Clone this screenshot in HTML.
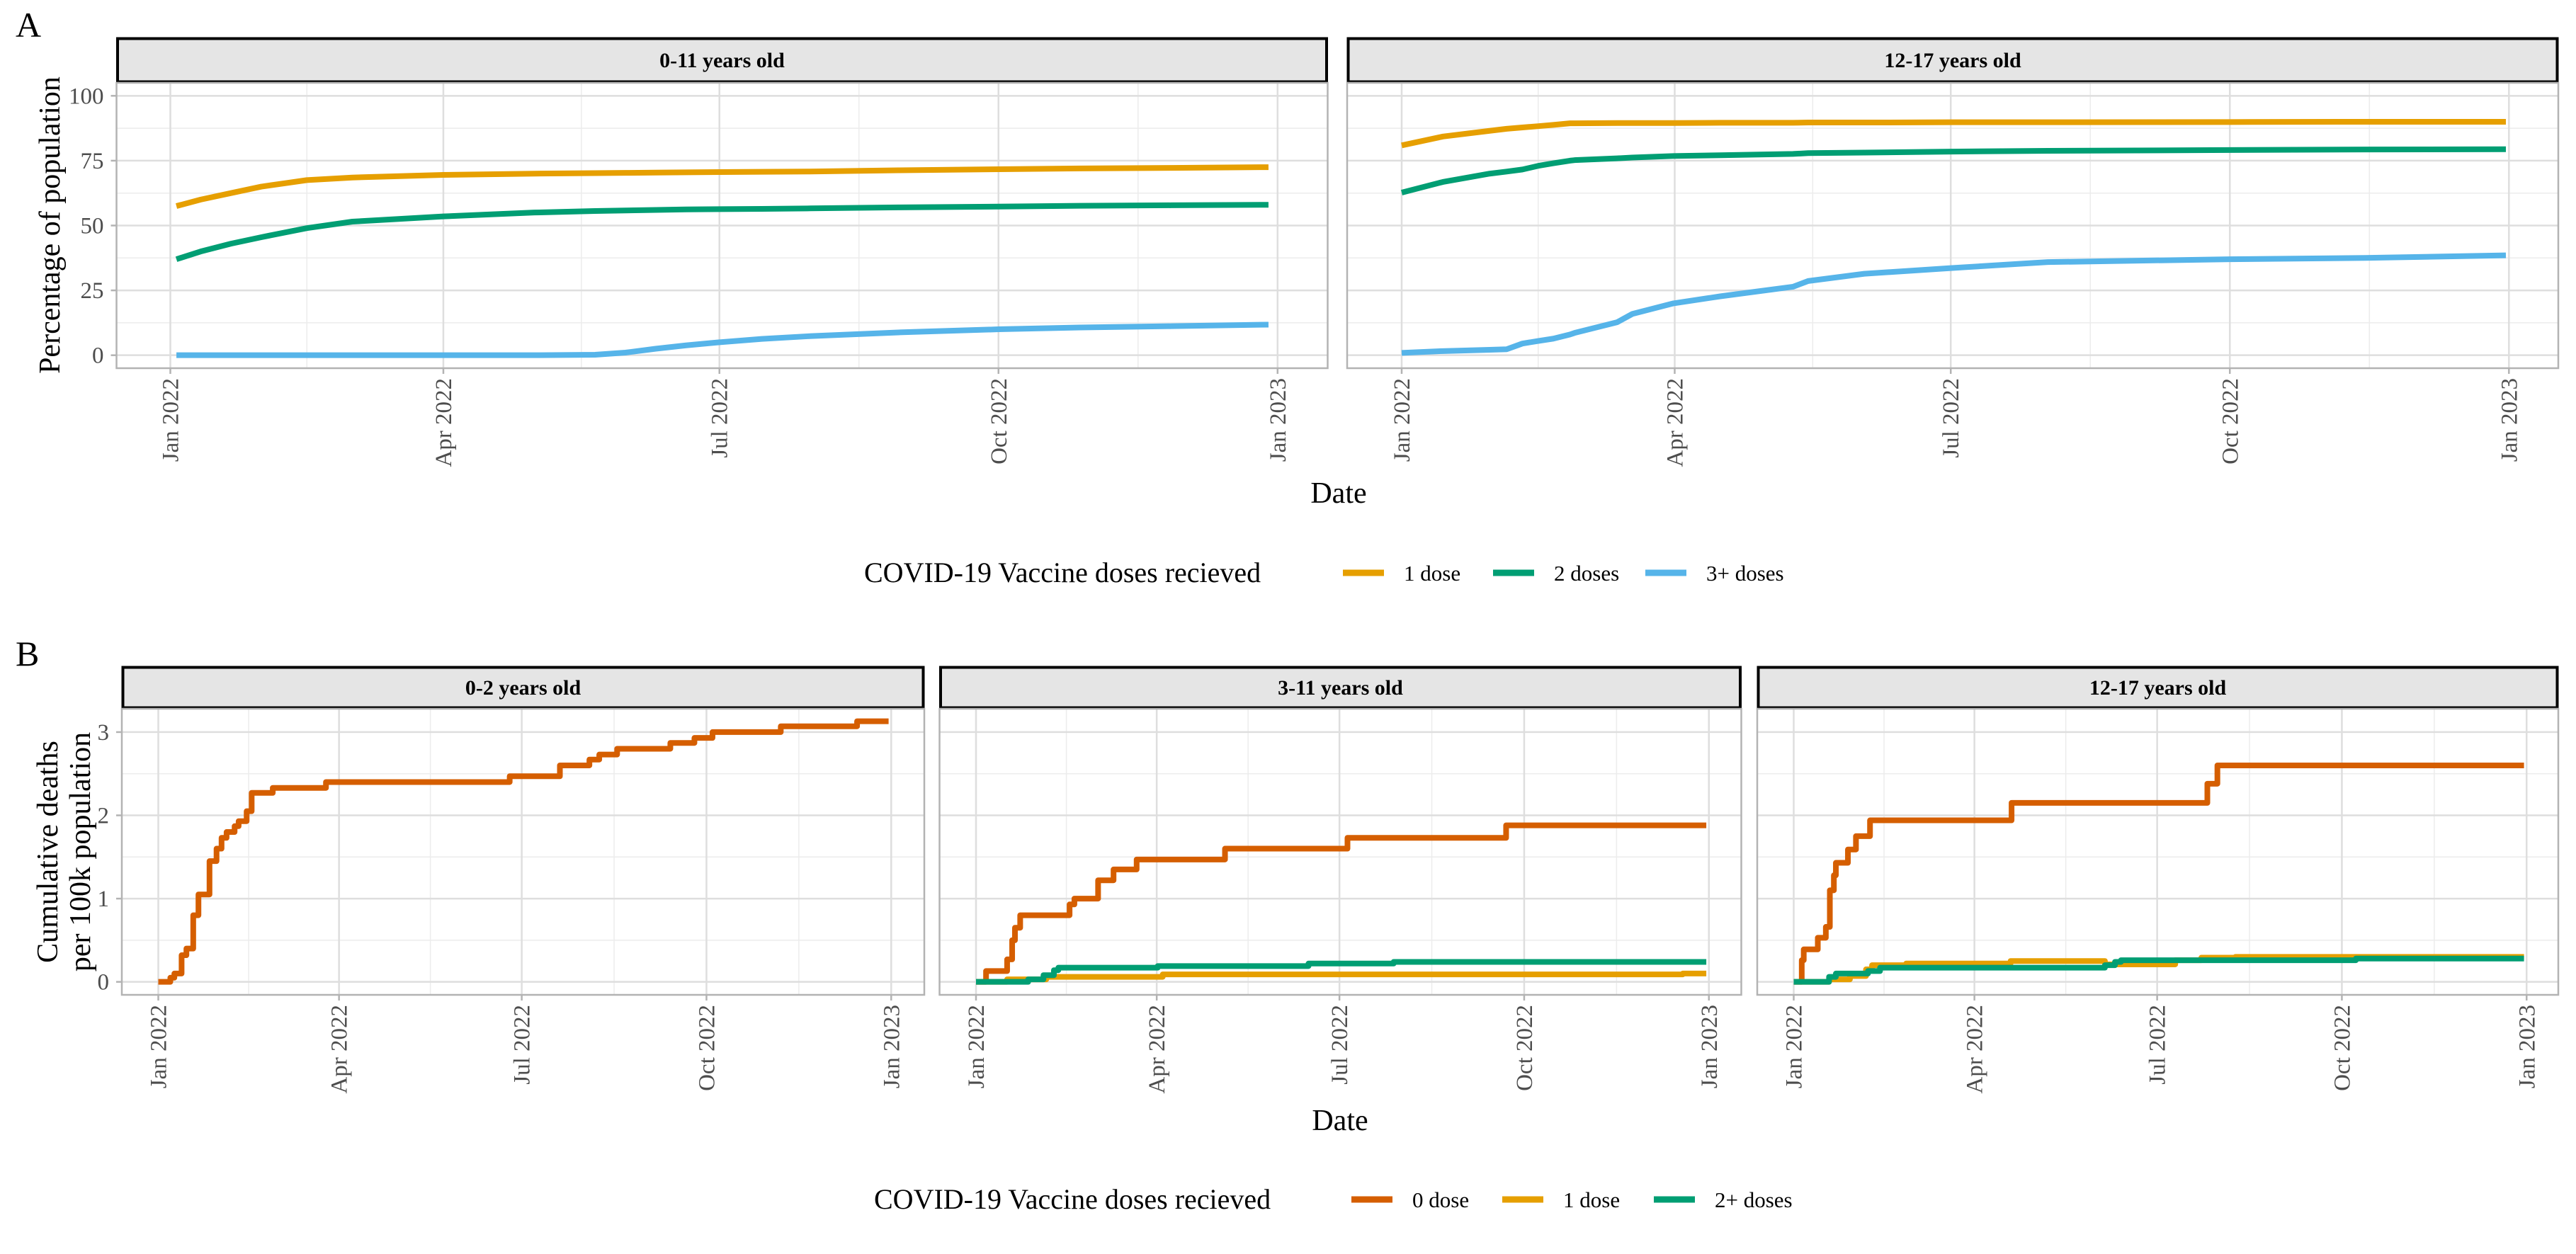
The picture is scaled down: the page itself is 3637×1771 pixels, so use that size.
<!DOCTYPE html>
<html><head><meta charset="utf-8">
<style>
html,body{margin:0;padding:0;background:#fff;}
svg{display:block;font-family:"Liberation Serif",serif;}
</style></head>
<body>
<svg id="chart" width="3637" height="1771" viewBox="0 0 3637 1771" xmlns="http://www.w3.org/2000/svg">
<rect width="3637" height="1771" fill="#fff"/>
<g id="root"></g>
</svg>
<script>
// ---------- Data: Panel A (percentage of population vaccinated) ----------
const a1Days = [2,10,20,30,45,60,90,120,140,150,160,170,181,195,210,240,273,300,330,362];
const a1Dose1 = [57.5,60,62.5,65,67.5,68.5,69.5,70,70.2,70.3,70.4,70.5,70.6,70.7,70.8,71.3,71.7,72,72.2,72.5];
const a1Dose2 = [37,40,43,45.5,49,51.5,53.5,55,55.6,55.8,56,56.2,56.3,56.4,56.6,57,57.3,57.6,57.8,58];
const a1Dose3 = [0,0,0,0,0,0,0,0,0.2,1,2.5,3.8,5,6.3,7.3,8.8,10,10.7,11.2,11.8];

const a2Days = [0,13.6,29,34.6,39.8,45,50,55.5,57,71,76,89.6,105,129,134,152.5,181,213,273,317.5,364];
const a2Dose1 = [80.9,84.3,86.5,87.3,87.8,88.3,88.8,89.4,89.4,89.5,89.5,89.5,89.6,89.6,89.7,89.7,89.8,89.8,89.9,90,90];
const a2Dose2 = [62.7,66.8,70,70.8,71.6,73,74,75,75.2,75.9,76.2,76.8,77.1,77.6,77.9,78.1,78.5,78.8,79.1,79.3,79.4];
const a2Dose3 = [0.9,1.6,2.1,2.3,4.5,5.5,6.4,8,8.6,12.7,15.9,20,22.7,26.4,28.6,31.4,33.6,35.9,37,37.5,38.5];

// ---------- Data: Panel B (cumulative deaths, step functions) ----------
const b1Dose0Days = [0,6,8,11.6,14,17.4,20,25.5,29,31.5,34,38,40,44,46.5,57,83.5,175,200,214.7,219.6,228.5,255,267,276,310,348];
const b1Dose0Vals = [0,0.05,0.1,0.32,0.4,0.8,1.05,1.45,1.6,1.73,1.8,1.87,1.93,2.05,2.27,2.33,2.4,2.47,2.6,2.67,2.73,2.8,2.87,2.93,3.0,3.07,3.13];

const b2Dose0Days = [0,5,15.5,18,19.4,22,46.6,49,60.8,68.5,80,124,185,264];
const b2Dose0Vals = [0,0.13,0.27,0.5,0.65,0.8,0.93,1.0,1.22,1.35,1.47,1.6,1.73,1.88];
const b2Dose1Days = [0,15.5,35,93,352];
const b2Dose1Vals = [0,0.03,0.06,0.09,0.1];
const b2Dose2Days = [0,26,33.6,38.8,41,90.5,165.6,208];
const b2Dose2Vals = [0,0.03,0.08,0.14,0.17,0.19,0.22,0.24];

const b3Dose0Days = [0,4,5,12,16,18,20,21,27,31,38,108.5,206,211];
const b3Dose0Vals = [0,0.26,0.39,0.53,0.66,1.1,1.28,1.43,1.59,1.75,1.94,2.15,2.38,2.6];
const b3Dose1Days = [0,17.6,28,36,39,56,108,155,190,203,220];
const b3Dose1Vals = [0,0.03,0.07,0.15,0.2,0.22,0.25,0.21,0.26,0.29,0.3];
const b3Dose2Days = [0,17.6,21,37,43,155,160,163,280];
const b3Dose2Vals = [0,0.06,0.1,0.13,0.17,0.2,0.24,0.26,0.28];

// ---------- Axis tick definitions ----------
const xTickDays = [0,90,181,273,365];
const xTickLabels = ["Jan 2022","Apr 2022","Jul 2022","Oct 2022","Jan 2023"];
const xMinorDays = [45,135.5,227,319];
const aYTicks = [0,25,50,75,100];
const aYMinor = [12.5,37.5,62.5,87.5];
const bYTicks = [0,1,2,3];
const bYMinor = [0.5,1.5,2.5];

const COL = {d0:"#D55E00", d1:"#E69F00", d2:"#009E73", d3:"#56B4E9"};
const NS = "http://www.w3.org/2000/svg";
const root = document.getElementById("root");

function mk(tag, attrs, parent, text){
  const e = document.createElementNS(NS, tag);
  for (const k in attrs) e.setAttribute(k, attrs[k]);
  if (text !== undefined) e.textContent = text;
  (parent||root).appendChild(e);
  return e;
}

function panel(cfg){
  const g = mk("g", {});
  
  
  const {left, width, top, bottom, stripTop, janOff, pxDay, yMin, yMax} = cfg;
  const x = d => left + janOff + d*pxDay;
  const y = v => bottom - (v - yMin)/(yMax - yMin)*(bottom - top);
  // strip
  const strip = mk("rect", {x:left+1.5, y:stripTop+1.5, width:width-3, height:top-stripTop-3, fill:"#e5e5e5", stroke:"#000", "stroke-width":4}, g);
  
  
  const st = mk("text", {x:left+width/2, y:(stripTop+top)/2+10, "text-anchor":"middle", "font-size":30, "font-weight":"bold", fill:"#000"}, g, cfg.title);
  
  
  // grid
  const grid = mk("g", {}, g);
  
  
  cfg.yMinor.forEach(v => mk("line", {x1:left, x2:left+width, y1:y(v), y2:y(v), stroke:"#ececec", "stroke-width":1.5}, grid));
  xMinorDays.forEach(d => mk("line", {x1:x(d), x2:x(d), y1:top, y2:bottom, stroke:"#ececec", "stroke-width":1.5}, grid));
  cfg.yTicks.forEach(v => mk("line", {x1:left, x2:left+width, y1:y(v), y2:y(v), stroke:"#dedede", "stroke-width":2.5}, grid));
  xTickDays.forEach(d => mk("line", {x1:x(d), x2:x(d), y1:top, y2:bottom, stroke:"#dedede", "stroke-width":2.5}, grid));
  // border
  const border = mk("rect", {x:left, y:top, width:width, height:bottom-top, fill:"none", stroke:"#b3b3b3", "stroke-width":2.5}, g);
  
  
  // y axis
  if (cfg.showY){
    const ya = mk("g", {}, g);
    
    
    cfg.yTicks.forEach(v => {
      mk("line", {x1:left-8, x2:left, y1:y(v), y2:y(v), stroke:"#b3b3b3", "stroke-width":2.5}, ya);
      const t = mk("text", {x:left-18, y:y(v)+11, "text-anchor":"end", "font-size":33, fill:"#4d4d4d"}, ya, String(v));
      
      
    });
  }
  // x axis
  const xa = mk("g", {}, g);
  
  
  xTickDays.forEach((d,i) => {
    mk("line", {x1:x(d), x2:x(d), y1:bottom, y2:bottom+8, stroke:"#b3b3b3", "stroke-width":2.5}, xa);
    const tx = x(d)+11, ty = bottom+14;
    const t = mk("text", {x:tx, y:ty, "text-anchor":"end", "font-size":33, fill:"#4d4d4d", transform:`rotate(-90 ${tx} ${ty})`}, xa, xTickLabels[i]);
    
    
  });
  // series
  cfg.series.forEach(s => {
    let dstr = "";
    if (s.step){
      s.days.forEach((d,i) => {
        if (i===0) dstr += `M${x(d)},${y(s.vals[0])}`;
        else dstr += ` H${x(d)} V${y(s.vals[i])}`;
      });
      dstr += ` H${x(cfg.endDay)}`;
    } else {
      s.days.forEach((d,i) => { dstr += (i?" L":"M") + x(d) + "," + y(s.vals[i]); });
    }
    const p = mk("path", {d:dstr, fill:"none", stroke:s.color, "stroke-width":8, "stroke-linejoin":"round", "stroke-linecap":"butt"}, g);
    
    
  });
}

// Panel A
const aCommon = {top:117, bottom:520, stripTop:53, pxDay:4.283, yMin:-5, yMax:105, yTicks:aYTicks, yMinor:aYMinor};
panel(Object.assign({}, aCommon, {name:"panel-a-0-11", title:"0-11 years old", left:164.5, width:1710, janOff:76, showY:true,
  series:[
    {name:"line-a1-1-dose", days:a1Days, vals:a1Dose1, color:COL.d1},
    {name:"line-a1-2-doses", days:a1Days, vals:a1Dose2, color:COL.d2},
    {name:"line-a1-3plus-doses", days:a1Days, vals:a1Dose3, color:COL.d3}]}));
panel(Object.assign({}, aCommon, {name:"panel-a-12-17", title:"12-17 years old", left:1902, width:1710, janOff:77, showY:false,
  series:[
    {name:"line-a2-1-dose", days:a2Days, vals:a2Dose1, color:COL.d1},
    {name:"line-a2-2-doses", days:a2Days, vals:a2Dose2, color:COL.d2},
    {name:"line-a2-3plus-doses", days:a2Days, vals:a2Dose3, color:COL.d3}]}));

// Panel B
const bCommon = {top:1001, bottom:1405, stripTop:941, pxDay:2.835, yMin:-0.156, yMax:3.28, yTicks:bYTicks, yMinor:bYMinor, endDay:363.7, janOff:51.5};
panel(Object.assign({}, bCommon, {name:"panel-b-0-2", title:"0-2 years old", left:172, width:1133, showY:true,
  series:[{name:"line-b1-0-dose", step:true, days:b1Dose0Days, vals:b1Dose0Vals, color:COL.d0}]}));
panel(Object.assign({}, bCommon, {name:"panel-b-3-11", title:"3-11 years old", left:1326.5, width:1132, showY:false,
  series:[
    {name:"line-b2-0-dose", step:true, days:b2Dose0Days, vals:b2Dose0Vals, color:COL.d0},
    {name:"line-b2-1-dose", step:true, days:b2Dose1Days, vals:b2Dose1Vals, color:COL.d1},
    {name:"line-b2-2plus-doses", step:true, days:b2Dose2Days, vals:b2Dose2Vals, color:COL.d2}]}));
panel(Object.assign({}, bCommon, {name:"panel-b-12-17", title:"12-17 years old", left:2481, width:1131, showY:false,
  series:[
    {name:"line-b3-0-dose", step:true, days:b3Dose0Days, vals:b3Dose0Vals, color:COL.d0},
    {name:"line-b3-1-dose", step:true, days:b3Dose1Days, vals:b3Dose1Vals, color:COL.d1},
    {name:"line-b3-2plus-doses", step:true, days:b3Dose2Days, vals:b3Dose2Vals, color:COL.d2}]}));

// Titles & labels
function txt(name, attrs, s){
  const t = mk("text", attrs, root, s);
  
  
  return t;
}
txt("panel-label-a", {x:22, y:52, "font-size":50, fill:"#000"}, "A");
txt("panel-label-b", {x:22, y:940, "font-size":50, fill:"#000"}, "B");
txt("y-axis-title-a", {x:84, y:318, "text-anchor":"middle", "font-size":42, fill:"#000", transform:"rotate(-90 84 318)"}, "Percentage of population");
txt("y-axis-title-b-line1", {x:81, y:1203, "text-anchor":"middle", "font-size":42, fill:"#000", transform:"rotate(-90 81 1203)"}, "Cumulative deaths");
txt("y-axis-title-b-line2", {x:127, y:1203, "text-anchor":"middle", "font-size":42, fill:"#000", transform:"rotate(-90 127 1203)"}, "per 100k population");
txt("x-axis-title-a", {x:1890, y:710, "text-anchor":"middle", "font-size":42, fill:"#000"}, "Date");
txt("x-axis-title-b", {x:1892, y:1596, "text-anchor":"middle", "font-size":42, fill:"#000"}, "Date");

// Legends
function legend(name, baseY, titleX, entries){
  const g = mk("g", {});
  
  
  const t = mk("text", {x:titleX, y:baseY, "font-size":40, fill:"#000"}, g, "COVID-19 Vaccine doses recieved");
  
  
  entries.forEach(e => {
    const k = mk("line", {x1:e.x, x2:e.x+58, y1:baseY-13, y2:baseY-13, stroke:e.color, "stroke-width":9}, g);
    
    
    const l = mk("text", {x:e.x+86, y:baseY-2, "font-size":31, fill:"#000"}, g, e.label);
    
    
  });
}
legend("legend-a", 822, 1220, [
  {x:1896, color:COL.d1, label:"1 dose"},
  {x:2108, color:COL.d2, label:"2 doses"},
  {x:2323, color:COL.d3, label:"3+ doses"}]);
legend("legend-b", 1707, 1234, [
  {x:1908, color:COL.d0, label:"0 dose"},
  {x:2121, color:COL.d1, label:"1 dose"},
  {x:2335, color:COL.d2, label:"2+ doses"}]);
</script>
</body></html>
